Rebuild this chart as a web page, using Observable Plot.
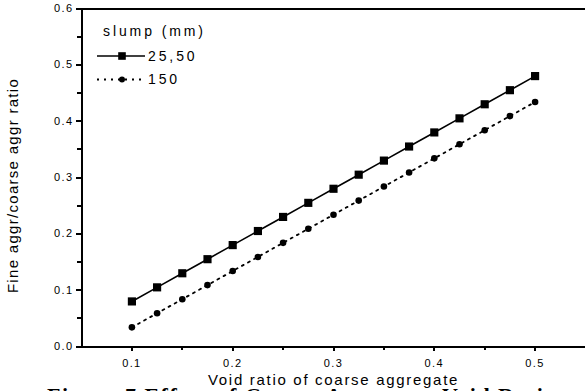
<!DOCTYPE html>
<html>
<head>
<meta charset="utf-8">
<script src="https://cdn.jsdelivr.net/npm/d3@7"></script>
<script src="https://cdn.jsdelivr.net/npm/@observablehq/plot@0.6"></script>
<style>
  html, body { margin: 0; padding: 0; background: white; overflow: hidden; }
  #wrap { position: relative; width: 585px; height: 391px; overflow: hidden; background: white; }
  #caption { position: absolute; left: 47px; top: 383px; font: bold 22px "Liberation Serif", "Times New Roman", serif; letter-spacing: 1.5px; white-space: nowrap; color: black; }
  #chart { position: absolute; left: 0; top: 0; }
</style>
</head>
<body>
<div id="wrap">
  <div id="caption"></div>
  <div id="chart"></div>
</div>
<script>
// ---- data ----
const voidRatio = [0.1, 0.125, 0.15, 0.175, 0.2, 0.225, 0.25, 0.275, 0.3, 0.325, 0.35, 0.375, 0.4, 0.425, 0.45, 0.475, 0.5];
const slump2550 = [0.08, 0.105, 0.13, 0.155, 0.18, 0.205, 0.23, 0.255, 0.28, 0.305, 0.33, 0.355, 0.38, 0.405, 0.43, 0.455, 0.48];
const slump150  = [0.034, 0.059, 0.084, 0.109, 0.134, 0.159, 0.184, 0.209, 0.234, 0.259, 0.284, 0.309, 0.334, 0.359, 0.384, 0.409, 0.434];
const seriesNames = ["25,50", "150"];
const legendTitle = "slump (mm)";
const xMajorTicks = [0.1, 0.2, 0.3, 0.4, 0.5];
const xMinorTicks = [0.15, 0.25, 0.35, 0.45];
const yMajorTicks = [0.0, 0.1, 0.2, 0.3, 0.4, 0.5, 0.6];
const yMinorTicks = [0.05, 0.15, 0.25, 0.35, 0.45, 0.55];
const xLabel = "Void ratio of coarse aggregate";
const yLabel = "Fine aggr/coarse aggr ratio";
const captionText = "Figure 7 Effect of Coarse Aggregate Void Ratio";

const dataA = voidRatio.map((x, i) => ({x, y: slump2550[i]}));
const dataB = voidRatio.map((x, i) => ({x, y: slump150[i]}));
const font = "'Liberation Sans', Arial, sans-serif";
const fmt = d => d.toFixed(1);

const chart = Plot.plot({
  width: 585, height: 391,
  marginLeft: 81, marginRight: 0, marginTop: 8, marginBottom: 45,
  x: {domain: [0.05, 0.55]},
  y: {domain: [0, 0.6]},
  style: {fontFamily: font, fontSize: "11px", color: "black", background: "transparent", overflow: "visible"},
  marks: [
    Plot.axisX(xMajorTicks, {tickSize: 5, strokeWidth: 2, tickFormat: () => "", label: null, shapeRendering: "crispEdges"}),
    Plot.axisX(xMinorTicks, {tickSize: 4, strokeWidth: 2, tickFormat: () => "", label: null, shapeRendering: "crispEdges"}),
    Plot.axisY(yMajorTicks, {tickSize: 5, strokeWidth: 2, tickFormat: () => "", label: null, shapeRendering: "crispEdges"}),
    Plot.axisY(yMinorTicks, {tickSize: 4, strokeWidth: 2, tickFormat: () => "", label: null, shapeRendering: "crispEdges"}),
    Plot.text(xMajorTicks, {x: d => d, text: fmt, frameAnchor: "bottom", textAnchor: "middle", lineAnchor: "middle", dy: 17, fontSize: 11, fill: "black"}),
    Plot.text(yMajorTicks, {y: d => d, text: fmt, frameAnchor: "left", textAnchor: "end", lineAnchor: "middle", dx: -8, fontSize: 11, fill: "black"}),
    Plot.ruleY([0], {stroke: "black", strokeWidth: 2, shapeRendering: "crispEdges"}),
    Plot.ruleY([0.6], {stroke: "black", strokeWidth: 2, shapeRendering: "crispEdges"}),
    Plot.ruleX([0.05], {stroke: "black", strokeWidth: 2, shapeRendering: "crispEdges"}),
    Plot.line(dataA, {x: "x", y: "y", stroke: "black", strokeWidth: 1.6}),
    Plot.line(dataB, {x: "x", y: "y", stroke: "black", strokeWidth: 1.8, strokeDasharray: "2,5"}),
    Plot.dot(dataA, {x: "x", y: "y", symbol: "square", r: 4.6, fill: "black", stroke: "none"}),
    Plot.dot(dataB, {x: "x", y: "y", symbol: "circle", r: 3.3, fill: "black", stroke: "none"}),
    Plot.text([xLabel], {frameAnchor: "bottom", textAnchor: "middle", dy: 34, fontSize: 15, lineAnchor: "middle", fill: "black"}),
    Plot.text([yLabel], {frameAnchor: "left", textAnchor: "middle", dx: -68, dy: 8, rotate: -90, fontSize: 15, lineAnchor: "middle", fill: "black"})
  ]
});
document.getElementById("chart").appendChild(chart);
document.getElementById("caption").textContent = captionText;

const svg = d3.select(chart);
const tickTexts = new Set([...xMajorTicks, ...yMajorTicks].map(fmt));
svg.selectAll("text").each(function () {
  const t = this.textContent;
  if (t === xLabel) this.style.letterSpacing = "1.7px";
  else if (t === yLabel) this.style.letterSpacing = "1.3px";
  else if (tickTexts.has(t)) this.style.letterSpacing = "1.4px";
});

// legend
const lg = svg.append("g").attr("font-family", font).attr("font-size", 14).attr("letter-spacing", 2.9)
  .attr("fill", "black").attr("text-anchor", "start");
lg.append("text").attr("x", 103).attr("y", 31.5).attr("dy", "0.35em").text(legendTitle);
const rows = [
  {name: seriesNames[0], y: 56, dash: null, sym: "square"},
  {name: seriesNames[1], y: 79.5, dash: "2,5", sym: "circle"}
];
rows.forEach(r => {
  lg.append("line").attr("x1", 97).attr("x2", 145).attr("y1", r.y).attr("y2", r.y)
    .attr("stroke", "black").attr("stroke-width", r.dash ? 1.8 : 1.6).attr("stroke-dasharray", r.dash);
  if (r.sym === "square") {
    lg.append("rect").attr("x", 122 - 3.8).attr("y", r.y - 3.8).attr("width", 7.6).attr("height", 7.6).attr("fill", "black");
  } else {
    lg.append("circle").attr("cx", 122).attr("cy", r.y).attr("r", 3).attr("fill", "black");
  }
  lg.append("text").attr("x", 148).attr("y", r.y).attr("dy", "0.35em").text(r.name);
});
</script>
</body>
</html>
